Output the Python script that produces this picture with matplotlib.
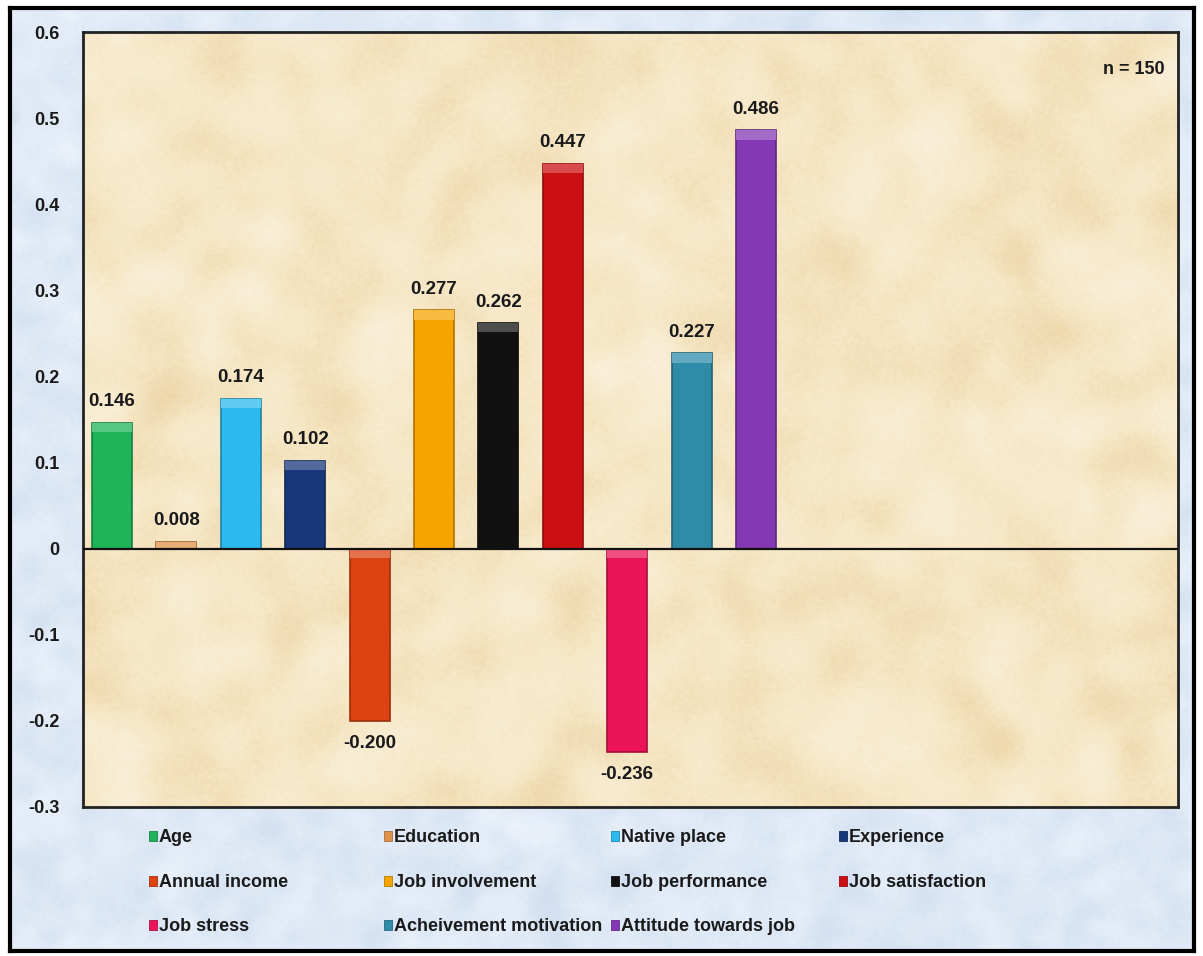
import numpy as np
import matplotlib.pyplot as plt
from matplotlib.patches import Rectangle
from matplotlib.colors import to_rgb

# correlation of each factor with the outcome (n = 150)
factors = ['Age', 'Education', 'Native place', 'Experience',
           'Annual income', 'Job involvement', 'Job performance', 'Job satisfaction',
           'Job stress', 'Acheivement motivation', 'Attitude towards job']
values = [0.146, 0.008, 0.174, 0.102, -0.200, 0.277, 0.262, 0.447, -0.236, 0.227, 0.486]
colors = ['#1fb35a', '#e0914a', '#2bb9ee', '#17377a', '#dd4212', '#f6a400',
          '#111111', '#cc0f12', '#ec1459', '#2f8ca9', '#8538b4']
yticks = [-0.3, -0.2, -0.1, 0, 0.1, 0.2, 0.3, 0.4, 0.5, 0.6]
ylabels = ['-0.3', '-0.2', '-0.1', '0', '0.1', '0.2', '0.3', '0.4', '0.5', '0.6']

plt.rcParams['font.family'] = ['Liberation Sans', 'DejaVu Sans']
plt.rcParams['font.weight'] = 'bold'


def texture(h, w, base, spot, light, seed, scale=18, amount=0.6):
    # soft paper texture: smoothed blotches plus fine grain
    rng = np.random.default_rng(seed)
    noise = rng.standard_normal((h, w))
    fy = np.fft.fftfreq(h)[:, None]
    fx = np.fft.fftfreq(w)[None, :]
    kernel = np.exp(-(fx ** 2 + fy ** 2) * (2 * np.pi * scale) ** 2 / 2)
    smooth = np.real(np.fft.ifft2(np.fft.fft2(noise) * kernel))
    smooth = (smooth - smooth.mean()) / smooth.std()
    grain = rng.standard_normal((h, w)) * 0.45
    t = np.clip((smooth + grain) * amount, -2.5, 2.5) / 2.5
    base, spot, light = (np.array(c) for c in (base, spot, light))
    img = np.where(t[..., None] > 0, base + (spot - base) * t[..., None],
                   base + (light - base) * (-t[..., None]))
    return np.clip(img, 0, 1)


fig = plt.figure(figsize=(12.03, 9.56), dpi=100, facecolor='white')

# light blue chart panel with black frame
bg = fig.add_axes([0.0083, 0.0052, 0.9842, 0.9864])
bg.imshow(texture(320, 400, to_rgb('#dfe9f6'), to_rgb('#cbdaed'), to_rgb('#f1f6fc'), 7, 3, 0.45),
          extent=[0, 1, 0, 1], aspect='auto', interpolation='bilinear')
bg.set_xlim(0, 1)
bg.set_ylim(0, 1)
bg.set_xticks([])
bg.set_yticks([])
for s in bg.spines.values():
    s.set_linewidth(3)
    s.set_color('black')

ax = fig.add_axes([0.069, 0.156, 0.910, 0.8105])
ax.set_xlim(-0.45, 16.55)
ax.set_ylim(-0.3, 0.6)
ax.imshow(texture(300, 420, to_rgb('#f6e7c6'), to_rgb('#ebd19f'), to_rgb('#fbf4e4'), 11, 6, 0.5),
          extent=[-0.45, 16.55, -0.3, 0.6], aspect='auto', interpolation='bilinear', zorder=0)

x = np.arange(len(values))
width = 0.62
for xi, v, c in zip(x, values, colors):
    rgb = np.array(to_rgb(c))
    dark = rgb * 0.7
    ax.bar(xi, v, width, color=c, edgecolor=dark, linewidth=1.2, zorder=2)
    # lighter cap on the upper end of each bar
    top = max(v, 0)
    cap = min(0.011, abs(v))
    ax.add_patch(Rectangle((xi - width / 2, top - cap), width, cap,
                           facecolor=rgb + (1 - rgb) * 0.25, edgecolor='none', zorder=3))
    label = f'{v:.3f}'
    if v >= 0:
        ax.annotate(label, (xi, v), xytext=(0, 9), textcoords='offset points',
                    ha='center', va='bottom', fontsize=13.5, fontweight='bold', color='#1a1a1a')
    else:
        ax.annotate(label, (xi, v), xytext=(0, -10), textcoords='offset points',
                    ha='center', va='top', fontsize=13.5, fontweight='bold', color='#1a1a1a')

ax.axhline(0, color='#111111', linewidth=1.6, zorder=4)
ax.set_xticks([])
ax.set_yticks(yticks)
ax.set_yticklabels(ylabels, fontsize=13, fontweight='bold', color='#1a1a1a')
ax.tick_params(axis='y', length=0, pad=17)
for s in ax.spines.values():
    s.set_linewidth(2)
    s.set_color('#222222')

ax.text(0.988, 0.951, 'n = 150', transform=ax.transAxes, ha='right', va='center',
        fontsize=13, fontweight='bold', color='#1a1a1a')

# legend laid out in an even 4-column grid
col_x = [150, 385, 612, 840]
row_y = [836, 881, 925]
W, H = 1203, 956
for i, (name, c) in enumerate(zip(factors, colors)):
    cx = col_x[i % 4] / W
    cy = 1 - row_y[i // 4] / H
    fig.patches.append(Rectangle((cx - 0.0005, cy - 0.0055), 0.0062, 0.011,
                                 transform=fig.transFigure, facecolor=c,
                                 edgecolor=np.array(to_rgb(c)) * 0.75, linewidth=0.6))
    fig.text(cx + 0.0072, cy - 0.006, name, ha='left', va='baseline', fontsize=13,
             fontweight='bold', color='#1a1a1a')

fig.savefig('out.png', dpi=100, facecolor='white')
